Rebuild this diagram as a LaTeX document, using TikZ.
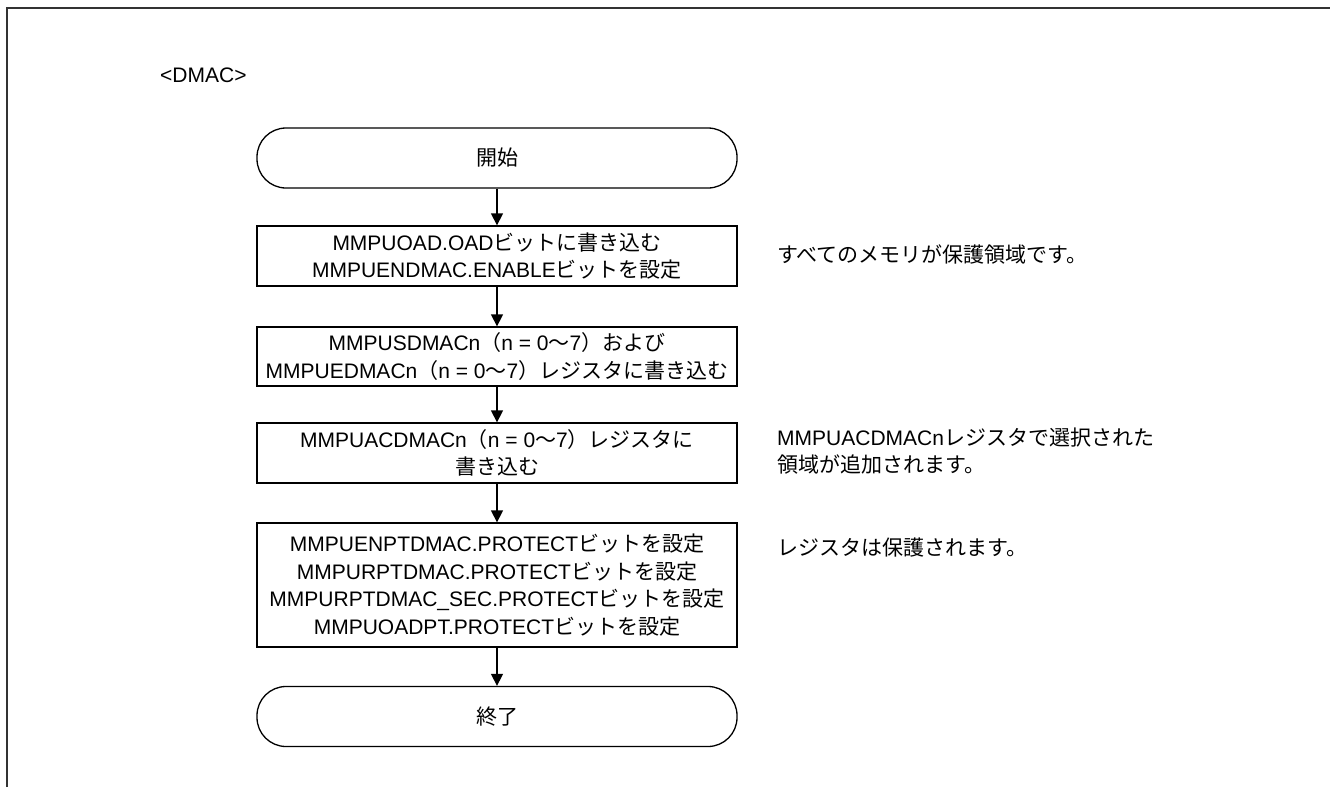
\documentclass[tikz,border=0pt]{standalone}
\usepackage{fontspec}
\setmainfont{Liberation Sans}
\newfontfamily\cjk{Noto Sans CJK JP}
\newcommand\jp[1]{{\cjk #1}}
\usetikzlibrary{arrows.meta}
\begin{document}
\begin{tikzpicture}[x=1pt,y=-1pt,
  every node/.style={font=\fontsize{21}{27.5}\selectfont},
  procbox/.style={draw, line width=1.3pt, minimum width=480pt, inner sep=0pt, align=center},
  term/.style={draw, line width=1.3pt, minimum width=480pt, minimum height=60pt, rounded corners=29pt, inner sep=0pt, align=center},
  note/.style={anchor=west, align=left, inner sep=0pt},
  arr/.style={line width=1.3pt, -{Triangle[width=12pt,length=12pt]}}]
\useasboundingbox (0,0) rectangle (1330,787);
\draw[line width=1.8pt, black!80] (7,787) -- (7,8) -- (1330,8);
\node[anchor=west, inner sep=0pt] (title) at (160,75) {<DMAC>};
\node[term] (start) at (497,158) {\jp{開始}};
\node[procbox, minimum height=60pt] (b1) at (497,256) {MMPUOAD.OAD\jp{ビットに書き込む}\\MMPUENDMAC.ENABLE\jp{ビットを設定}};
\node[procbox, minimum height=59pt] (b2) at (497,356.5) {MMPUSDMACn\jp{（}n = 0\jp{～}7\jp{）および}\\MMPUEDMACn\jp{（}n = 0\jp{～}7\jp{）レジスタに書き込む}};
\node[procbox, minimum height=60pt] (b3) at (497,453) {MMPUACDMACn\jp{（}n = 0\jp{～}7\jp{）レジスタに}\\\jp{書き込む}};
\node[procbox, minimum height=124pt] (b4) at (497,585) {MMPUENPTDMAC.PROTECT\jp{ビットを設定}\\MMPURPTDMAC.PROTECT\jp{ビットを設定}\\MMPURPTDMAC\_SEC.PROTECT\jp{ビットを設定}\\MMPUOADPT.PROTECT\jp{ビットを設定}};
\node[term] (end) at (497,716.5) {\jp{終了}};
\draw[arr] (start) -- (b1);
\draw[arr] (b1) -- (b2);
\draw[arr] (b2) -- (b3);
\draw[arr] (b3) -- (b4);
\draw[arr] (b4) -- (end);
\node[note] (n1) at (777,254) {\jp{すべてのメモリが保護領域です。}};
\node[note] (n3) at (777,451) {MMPUACDMACn\jp{レジスタで選択された}\\\jp{領域が追加されます。}};
\node[note] (n4) at (777,548) {\jp{レジスタは保護されます。}};
\end{tikzpicture}
\end{document}
